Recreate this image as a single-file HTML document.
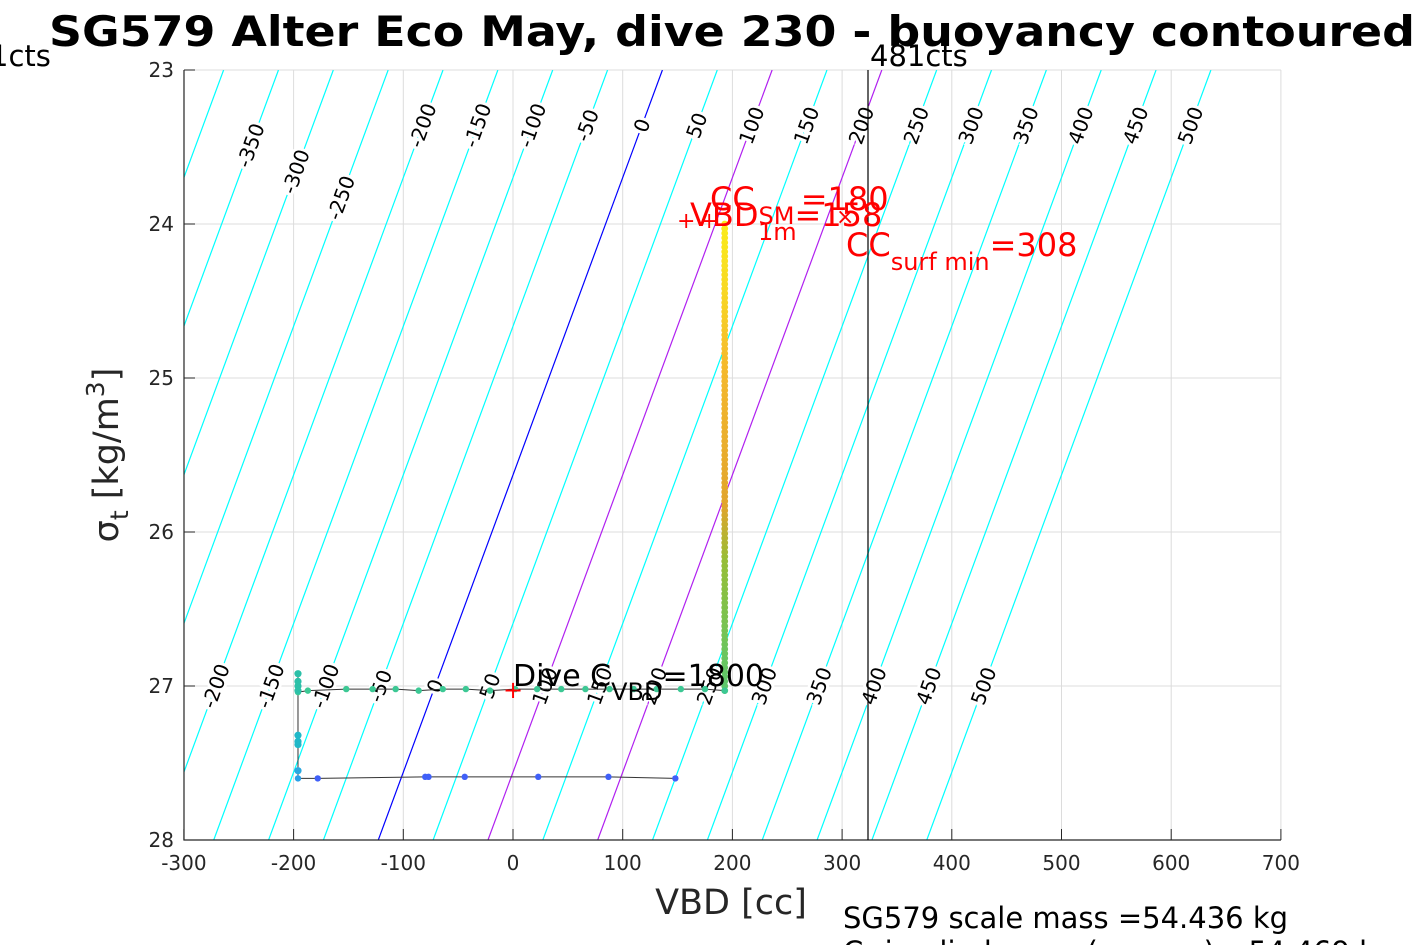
<!DOCTYPE html>
<html><head><meta charset="utf-8"><style>
html,body{margin:0;padding:0;background:#fff;}
svg{display:block;font-family:"DejaVu Sans","Liberation Sans",sans-serif;}
</style></head><body>
<svg id="chart" width="1417" height="945" viewBox="0 0 1417 945" xmlns="http://www.w3.org/2000/svg">
<defs><clipPath id="pc"><rect x="184" y="70" width="1097" height="770"/></clipPath></defs>
<text x="732" y="46" text-anchor="middle" font-weight="bold" font-size="42" textLength="1366" lengthAdjust="spacingAndGlyphs">SG579 Alter Eco May, dive 230 - buoyancy contoured</text>
<g id="grid"></g>
<g id="contours" clip-path="url(#pc)"></g>
<g id="clabels"></g>
<g id="data"></g>
<g id="axes"></g>
<text x="731" y="914" text-anchor="middle" font-size="35" fill="#262626">VBD [cc]</text>
<text transform="translate(118,455) rotate(-90)" text-anchor="middle" font-size="35" fill="#262626">σ<tspan font-size="25" dy="10">t</tspan><tspan dy="-10"> [kg/m</tspan><tspan font-size="25" dy="-14">3</tspan><tspan dy="14">]</tspan></text>
<text x="-10" y="66" font-size="29">1cts</text>
<text x="870" y="66" font-size="29">481cts</text>
<line x1="868" y1="70" x2="868" y2="840" stroke="#000" stroke-width="1.2"/>
<g fill="red" font-size="32">
<text x="710" y="210">CC<tspan dx="46">=180</tspan></text>
<text x="690" y="226">VBD<tspan font-size="24" dy="-2">SM</tspan><tspan dy="2">=158</tspan></text>
<text x="758" y="240" font-size="24">1m</text>
<text x="846" y="256">CC<tspan font-size="24" dy="14">surf min</tspan><tspan dy="-14">=308</tspan></text>
<text x="677" y="228" font-size="22">+</text>
<text x="700" y="228" font-size="22">+</text>
<text x="836" y="224" font-size="22">×</text>
</g>
<g font-size="30">
<text x="513" y="686">Dive C<tspan font-size="24" dy="14">VBD</tspan><tspan dy="-14">=1800</tspan></text>
</g>
<text x="513" y="698" text-anchor="middle" fill="red" font-size="24">+</text>
<text x="843" y="928" font-size="29">SG579 scale mass =54.436 kg</text>
<text x="843" y="962" font-size="29">C<tspan font-size="20">T</tspan> implied mass (sponge) =54.469 kg</text>
</svg>
<script>
const xTicks=[-300,-200,-100,0,100,200,300,400,500,600,700];
const yTicks=[23,24,25,26,27,28];
const contourValues=[-400,-350,-300,-250,-200,-150,-100,-50,0,50,100,150,200,250,300,350,400,450,500];
const topLabelValues=[-350,-300,-250,-200,-150,-100,-50,0,50,100,150,200,250,300,350,400,450,500];
const topLabelSigma=[23.49,23.66,23.83,23.36,23.36,23.36,23.36,23.36,23.36,23.36,23.36,23.36,23.36,23.36,23.36,23.36,23.36,23.36];
const bottomLabelValues=[-200,-150,-100,-50,0,50,100,150,200,250,300,350,400,450,500];
// dive data
const descentVBD=[-196,-196,-196,-196,-196,-196,-196,-196];
const descentSigma=[26.92,26.97,27.0,27.03,27.32,27.36,27.38,27.55];
const bottomRowVBD=[-196,-178,-80,-77,-44,23,87,148];
const bottomRowSigma=[27.6,27.6,27.59,27.59,27.59,27.59,27.59,27.6];
const midRowVBD=[-196,-187,-152,-128,-107,-86,-64,-43,-21,2,22,44,66,88,110,131,153,175,193];
const midRowSigma=[27.04,27.03,27.02,27.02,27.02,27.03,27.02,27.02,27.03,27.02,27.02,27.02,27.02,27.02,27.02,27.02,27.02,27.02,27.03];
const colVBD=193;
const colSigmaTop=24.0, colSigmaBottom=27.05;
const NS="http://www.w3.org/2000/svg";
const X=v=>513+v*1.097, Y=s=>70+(s-23)*154;
const cv=(b,s)=>b-71-51.8*(s-27);
function mk(t,a,p){const e=document.createElementNS(NS,t);for(const k in a)e.setAttribute(k,a[k]);p.appendChild(e);return e;}
const grid=document.getElementById('grid'),axes=document.getElementById('axes');
xTicks.forEach(v=>{const l=mk('line',{x1:X(v),x2:X(v),y1:70,y2:840,stroke:'#dcdcdc','stroke-width':1},grid);

const t=mk('text',{x:X(v),y:870,'text-anchor':'middle','font-size':20,fill:'#262626'},axes);t.textContent=v;

mk('line',{x1:X(v),x2:X(v),y1:840,y2:829,stroke:'#262626'},axes);});
yTicks.forEach(s=>{const l=mk('line',{x1:184,x2:1281,y1:Y(s),y2:Y(s),stroke:'#dcdcdc','stroke-width':1},grid);

const t=mk('text',{x:174,y:Y(s)+7,'text-anchor':'end','font-size':20,fill:'#262626'},axes);t.textContent=s;

mk('line',{x1:184,x2:195,y1:Y(s),y2:Y(s),stroke:'#262626'},axes);});
mk('path',{d:'M184 70V840H1281',fill:'none',stroke:'#262626','stroke-width':1.2},axes);
const cg=document.getElementById('contours');
contourValues.forEach(b=>{const col=b===0?'#0000ff':(b===100||b===200)?'#b020f0':'#00ffff';
const l=mk('line',{x1:X(cv(b,28)),y1:Y(28),x2:X(cv(b,23)),y2:Y(23),stroke:col,'stroke-width':1.2},cg);
});
const lg=document.getElementById('clabels');
function lab(b,s){const x=X(cv(b,s)),y=Y(s);
const t=mk('text',{x:x,y:y+7,'text-anchor':'middle','font-size':20,transform:`rotate(-70 ${x} ${y})`,stroke:'#fff','stroke-width':6,'paint-order':'stroke'},lg);
t.textContent=b;}
topLabelValues.forEach((b,i)=>lab(b,topLabelSigma[i]));
bottomLabelValues.forEach(b=>lab(b,27.0));
const dg=document.getElementById('data');
let pts=[];
for(let i=midRowVBD.length-1;i>=0;i--)pts.push([midRowVBD[i],midRowSigma[i]]);
descentVBD.forEach((v,i)=>pts.push([v,descentSigma[i]]));
bottomRowVBD.forEach((v,i)=>pts.push([v,bottomRowSigma[i]]));
const pl=mk('polyline',{points:pts.map(p=>X(p[0])+','+Y(p[1])).join(' '),fill:'none',stroke:'#333','stroke-width':1},dg);

mk('line',{x1:X(colVBD),x2:X(colVBD),y1:Y(colSigmaTop),y2:Y(colSigmaBottom),stroke:'#333','stroke-width':1},dg);
function dot(v,s,c,r){const e=mk('circle',{cx:X(v),cy:Y(s),r:r||3.2,fill:c},dg);
}
function colr(s){const f=(s-colSigmaTop)/(colSigmaBottom-colSigmaTop);
const st=[[0,[250,235,25]],[0.12,[248,220,35]],[0.3,[245,185,45]],[0.6,[225,165,45]],[0.72,[150,190,55]],[1,[90,200,110]]];
for(let i=1;i<st.length;i++)if(f<=st[i][0]){const a=st[i-1],b=st[i],t=(f-a[0])/(b[0]-a[0]);
return 'rgb('+a[1].map((c,j)=>Math.round(c+(b[1][j]-c)*t)).join(',')+')';}return 'rgb(90,200,110)';}
for(let s=colSigmaTop;s<=colSigmaBottom;s+=0.03)dot(colVBD,s,colr(s),3.4);
midRowVBD.forEach((v,i)=>dot(v,midRowSigma[i],'#3cc894'));
descentVBD.forEach((v,i)=>dot(v,descentSigma[i],descentSigma[i]<27.1?'#2cc0a8':descentSigma[i]<27.45?'#20b8c8':'#2aa8e0',3.6));
bottomRowVBD.forEach((v,i)=>dot(v,bottomRowSigma[i],i===0?'#2aa0e8':'#4060f8'));
</script>
</body></html>
